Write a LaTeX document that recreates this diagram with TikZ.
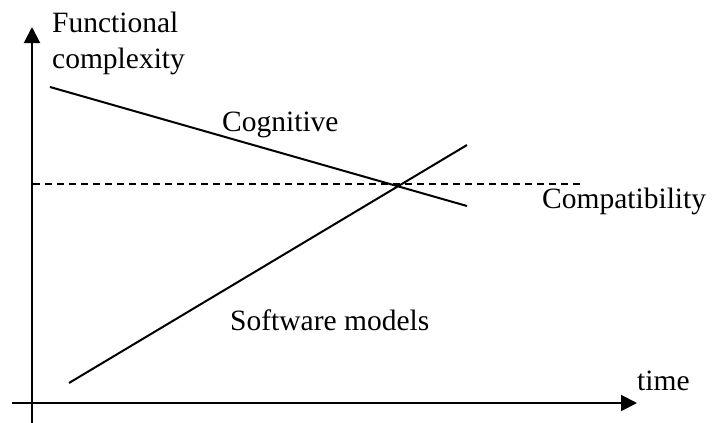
\documentclass[tikz,border=0pt]{standalone}
\usepackage{fontspec}
\setmainfont{Liberation Serif}
\usetikzlibrary{arrows.meta}
\begin{document}
\begin{tikzpicture}[x=1pt,y=-1pt,
  lbl/.style={anchor=base west,inner sep=0pt,font=\fontsize{29.5}{34}\selectfont},
  axis/.style={line width=2pt,-{Triangle[length=16pt,width=16pt]}},
  curve/.style={line width=2pt},
  dashline/.style={line width=1.5pt,dash pattern=on 7pt off 5pt}]
\useasboundingbox (0,0) rectangle (713,423);
% axes
\coordinate (yb) at (32,423);
\coordinate (yt) at (32,27);
\coordinate (xl) at (12,403);
\coordinate (xr) at (637,403);
\draw[axis] (yb) -- (yt);
\draw[axis] (xl) -- (xr);
% lines
\coordinate (c1) at (50,87);
\coordinate (c2) at (467,206);
\coordinate (s1) at (69,383);
\coordinate (s2) at (467,145);
\coordinate (d1) at (33,184);
\coordinate (d2) at (580,184);
\draw[curve] (c1) -- (c2);
\draw[curve] (s1) -- (s2);
\draw[dashline] (d1) -- (d2);
% labels
\node[lbl] (fc1) at (52,32) {Functional};
\node[lbl] (fc2) at (52,68) {complexity};
\node[lbl] (cog) at (222,131) {Cognitive};
\node[lbl] (comp) at (542,208) {Compatibility};
\node[lbl] (soft) at (230,330) {Software models};
\node[lbl] (time) at (637,390) {time};
\end{tikzpicture}
\end{document}
